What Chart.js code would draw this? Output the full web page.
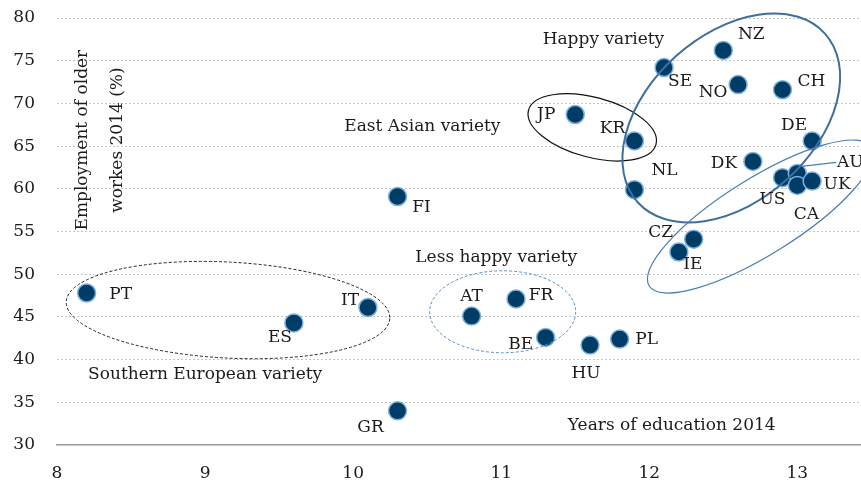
<!DOCTYPE html>
<html>
<head>
<meta charset="utf-8">
<script src="https://cdn.jsdelivr.net/npm/chart.js@4"></script>
<style>
  html, body { margin: 0; padding: 0; background: #fff; }
  #wrap { width: 861px; height: 488px; }
</style>
</head>
<body>
<div id="wrap"><canvas id="chart"></canvas></div>
<script>
// data
const countries = ['PT', 'ES', 'IT', 'FI', 'GR', 'AT', 'FR', 'BE', 'HU', 'PL', 'JP', 'KR', 'NL',
  'SE', 'NZ', 'NO', 'CH', 'DE', 'DK', 'US', 'AU', 'CA', 'UK', 'CZ', 'IE'];
const education = [8.2, 9.6, 10.1, 10.3, 10.3, 10.8, 11.1, 11.3, 11.6, 11.8, 11.5, 11.9, 11.9,
  12.1, 12.5, 12.6, 12.9, 13.1, 12.7, 12.9, 13.0, 13.0, 13.1, 12.3, 12.2];
const employment = [47.8, 44.3, 46.1, 59.1, 34.0, 45.1, 47.1, 42.6, 41.7, 42.4, 68.7, 65.6, 59.9,
  74.2, 76.2, 72.2, 71.6, 65.6, 63.2, 61.3, 61.8, 60.4, 60.9, 54.1, 52.6];
const xTicks = [8, 9, 10, 11, 12, 13];
const yTicks = [30, 35, 40, 45, 50, 55, 60, 65, 70, 75, 80];

const FONT = '"DejaVu Serif", serif';
const TEXT = '#1b1b1b';

// label offsets from the point, in pixels
const labelOffsets = {
  PT: [34, 2], ES: [-14, 15], IT: [-18, -7], FI: [24, 11], GR: [-27, 17],
  AT: [0, -19], FR: [25, -3], BE: [-25, 7], HU: [-4, 28], PL: [27, 0],
  JP: [-29, 0], KR: [-22, -12], NL: [30, -19], SE: [16, 14], NZ: [28, -16],
  NO: [-25, 8], CH: [29, -8], DE: [-18, -15], DK: [-29, 2], US: [-10, 22],
  AU: [53, -11], CA: [9, 29], UK: [25, 3], CZ: [-33, -7], IE: [14, 13]
};

// group annotations: centre in data units, half axes in px, rotation in degrees
const groups = [
  { x: 9.155, y: 45.8, a: 162, b: 48, rot: 3, color: '#222', width: 1, dash: [3, 2] },
  { x: 11.01, y: 45.6, a: 73, b: 41, rot: 0, color: '#5a8cc0', width: 1, dash: [3, 2] },
  { x: 11.615, y: 67.2, a: 66, b: 30, rot: 15, color: '#111', width: 1.2, dash: [] },
  { x: 12.554, y: 68.3, a: 126, b: 83, rot: -42, color: '#3f6f9e', width: 2, dash: [] },
  { x: 12.75, y: 56.75, a: 131, b: 38, rot: -32, color: '#4a7fb0', width: 1.2, dash: [] }
];

const notes = [
  { text: 'Happy variety', x: 11.28, y: 77.5 },
  { text: 'East Asian variety', x: 9.94, y: 67.3 },
  { text: 'Less happy variety', x: 10.42, y: 52.0 },
  { text: 'Southern European variety', x: 8.21, y: 38.2 },
  { text: 'Years of education 2014', x: 11.45, y: 32.3 }
];

const annotations = {
  id: 'annotations',
  afterDatasetsDraw(chart) {
    const ctx = chart.ctx;
    const xs = chart.scales.x, ys = chart.scales.y;
    ctx.save();

    // ellipses
    groups.forEach(g => {
      ctx.beginPath();
      ctx.ellipse(xs.getPixelForValue(g.x), ys.getPixelForValue(g.y), g.a, g.b,
        g.rot * Math.PI / 180, 0, Math.PI * 2);
      ctx.strokeStyle = g.color;
      ctx.lineWidth = g.width;
      ctx.setLineDash(g.dash);
      ctx.stroke();
    });
    ctx.setLineDash([]);

    // leader line to AU
    const au = countries.indexOf('AU');
    const ax = xs.getPixelForValue(education[au]), ay = ys.getPixelForValue(employment[au]);
    ctx.beginPath();
    ctx.moveTo(ax + 4, ay - 7);
    ctx.lineTo(ax + 39, ay - 11);
    ctx.strokeStyle = '#4a7fb0';
    ctx.lineWidth = 1.2;
    ctx.stroke();

    // country labels
    ctx.fillStyle = TEXT;
    ctx.font = '17px ' + FONT;
    ctx.textAlign = 'center';
    ctx.textBaseline = 'middle';
    countries.forEach((c, i) => {
      const off = labelOffsets[c];
      ctx.fillText(c, xs.getPixelForValue(education[i]) + off[0],
        ys.getPixelForValue(employment[i]) + off[1]);
    });

    // group names
    ctx.textAlign = 'left';
    notes.forEach(n => {
      ctx.fillText(n.text, xs.getPixelForValue(n.x), ys.getPixelForValue(n.y));
    });

    // y title inside the plot
    ctx.translate(xs.getPixelForValue(8.17), ys.getPixelForValue(65.7));
    ctx.rotate(-Math.PI / 2);
    ctx.textAlign = 'center';
    ctx.fillText('Employment of older', 0, 0);
    ctx.fillText('workes 2014 (%)', 0, 35);
    ctx.restore();
  }
};

new Chart(document.getElementById('chart'), {
  type: 'scatter',
  data: {
    datasets: [{
      data: countries.map((c, i) => ({ x: education[i], y: employment[i] })),
      backgroundColor: '#003d66',
      borderColor: '#7fb0de',
      borderWidth: 1.5,
      pointRadius: 9,
      pointHoverRadius: 9,
      clip: false
    }]
  },
  options: {
    responsive: true,
    maintainAspectRatio: false,
    animation: false,
    layout: { autoPadding: false, padding: { top: 18, right: 0, left: 0, bottom: 0 } },
    plugins: { legend: { display: false }, tooltip: { enabled: false } },
    scales: {
      x: {
        type: 'linear',
        min: 8,
        max: 13.43,
        ticks: {
          stepSize: 1,
          includeBounds: false,
          color: TEXT,
          padding: 18,
          font: { family: FONT, size: 17 },
          callback: v => xTicks.includes(v) ? String(v) : ''
        },
        afterFit: s => { s.height = 43; s.paddingLeft = 0; s.paddingRight = 0; },
        grid: { display: false, drawTicks: false },
        border: { display: true, color: '#9a9a9a', width: 1.5 }
      },
      y: {
        min: 30,
        max: 80,
        afterBuildTicks: s => { s.ticks = yTicks.map(v => ({ value: v })); },
        afterFit: s => { s.width = 57; s.paddingTop = 0; s.paddingBottom = 0; },
        grid: {
          drawTicks: false,
          color: ctx => ctx.tick && ctx.tick.value === 30 ? 'rgba(0,0,0,0)' : '#c4c4c4',
          lineWidth: 1
        },
        border: { display: false, dash: [2, 2] },
        ticks: { color: TEXT, padding: 22, font: { family: FONT, size: 17 } }
      }
    }
  },
  plugins: [annotations]
});
</script>
</body>
</html>
